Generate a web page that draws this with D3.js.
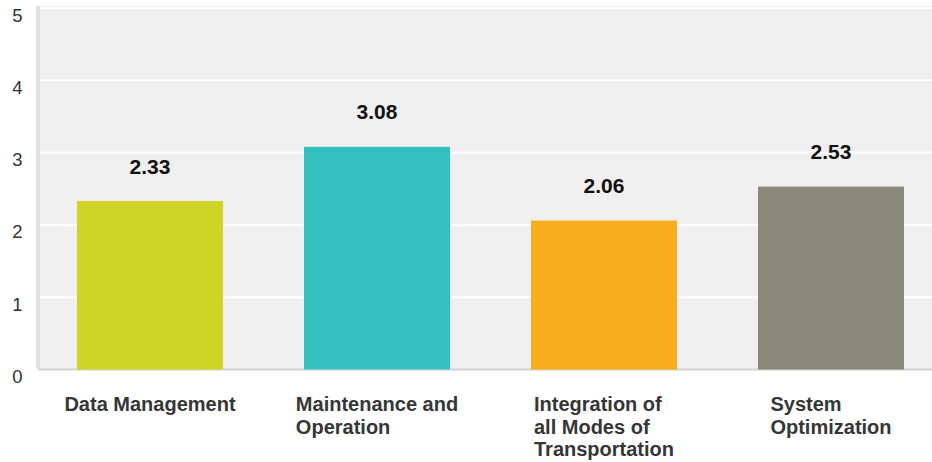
<!DOCTYPE html>
<html><head><meta charset="utf-8">
<script src="https://cdn.jsdelivr.net/npm/d3@7/dist/d3.min.js"></script>
<style>body{margin:0;background:#fff;}svg{display:block;}</style>
</head><body>
<svg id="c" width="932" height="462"></svg>
<script>
const categories = [["Data Management"], ["Maintenance and", "Operation"], ["Integration of", "all Modes of", "Transportation"], ["System", "Optimization"]];
const values = [2.33, 3.08, 2.06, 2.53];
const colors = ["#d0d427", "#35bfc0", "#f6ae1f", "#89897a"];
const yTicks = [0, 1, 2, 3, 4, 5];

const svg = d3.select("#c");
const font = "'Liberation Sans', Arial, sans-serif";
const y = d3.scaleLinear().domain([0, 5]).range([369.5, 8]);
const x = d3.scaleBand().domain(d3.range(values.length)).range([36.5, 944.5]).paddingInner(81/227).paddingOuter(40.5/227);

// background
svg.append("rect").attr("x", 36).attr("y", 6).attr("width", 932 - 36).attr("height", 363).attr("fill", "#efefef");
svg.append("rect").attr("x", 36).attr("y", 6).attr("width", 4).attr("height", 362).attr("fill", "#e0e0e0");
// gridlines
svg.append("g").selectAll("line").data(yTicks.filter(d => d > 0)).join("line")
  .attr("x1", 40).attr("x2", 932).attr("y1", d => y(d)).attr("y2", d => y(d))
  .attr("stroke", "#ffffff").attr("stroke-width", 2);
// baseline
svg.append("rect").attr("x", 38).attr("y", 368.5).attr("width", 932 - 38).attr("height", 2).attr("fill", "#d2d2d2");

// y tick labels
svg.append("g").selectAll("text").data(yTicks).join("text")
  .attr("x", 17.5).attr("y", d => y(d) + 13.5).attr("text-anchor", "middle")
  .attr("font-family", font).attr("font-size", 18.5).attr("fill", "#333")
  .text(d => d);

// bars
svg.append("g").selectAll("rect").data(values).join("rect")
  .attr("x", (d, i) => x(i)).attr("width", x.bandwidth())
  .attr("y", d => y(d)).attr("height", d => y(0) - y(d))
  .attr("fill", (d, i) => colors[i]);

// value labels
svg.append("g").selectAll("text").data(values).join("text")
  .attr("x", (d, i) => x(i) + x.bandwidth() / 2).attr("y", d => y(d) - 27.5)
  .attr("text-anchor", "middle").attr("font-family", font).attr("font-weight", "bold")
  .attr("font-size", 21).attr("fill", "#111")
  .text(d => d.toFixed(2));

// category labels (block centered, lines left-aligned)
categories.forEach((lines, i) => {
  const g = svg.append("g");
  const t = g.append("text").attr("font-family", font).attr("font-weight", "bold")
    .attr("font-size", 20).attr("fill", "#363636");
  lines.forEach((l, j) => {
    t.append("tspan").attr("y", 411 + j * 22.7).text(l);
  });
  let maxW = 0;
  t.selectAll("tspan").each(function () { maxW = Math.max(maxW, this.getComputedTextLength()); });
  const left = x(i) + x.bandwidth() / 2 - maxW / 2;
  t.selectAll("tspan").attr("x", left);
});
</script>
</body></html>
